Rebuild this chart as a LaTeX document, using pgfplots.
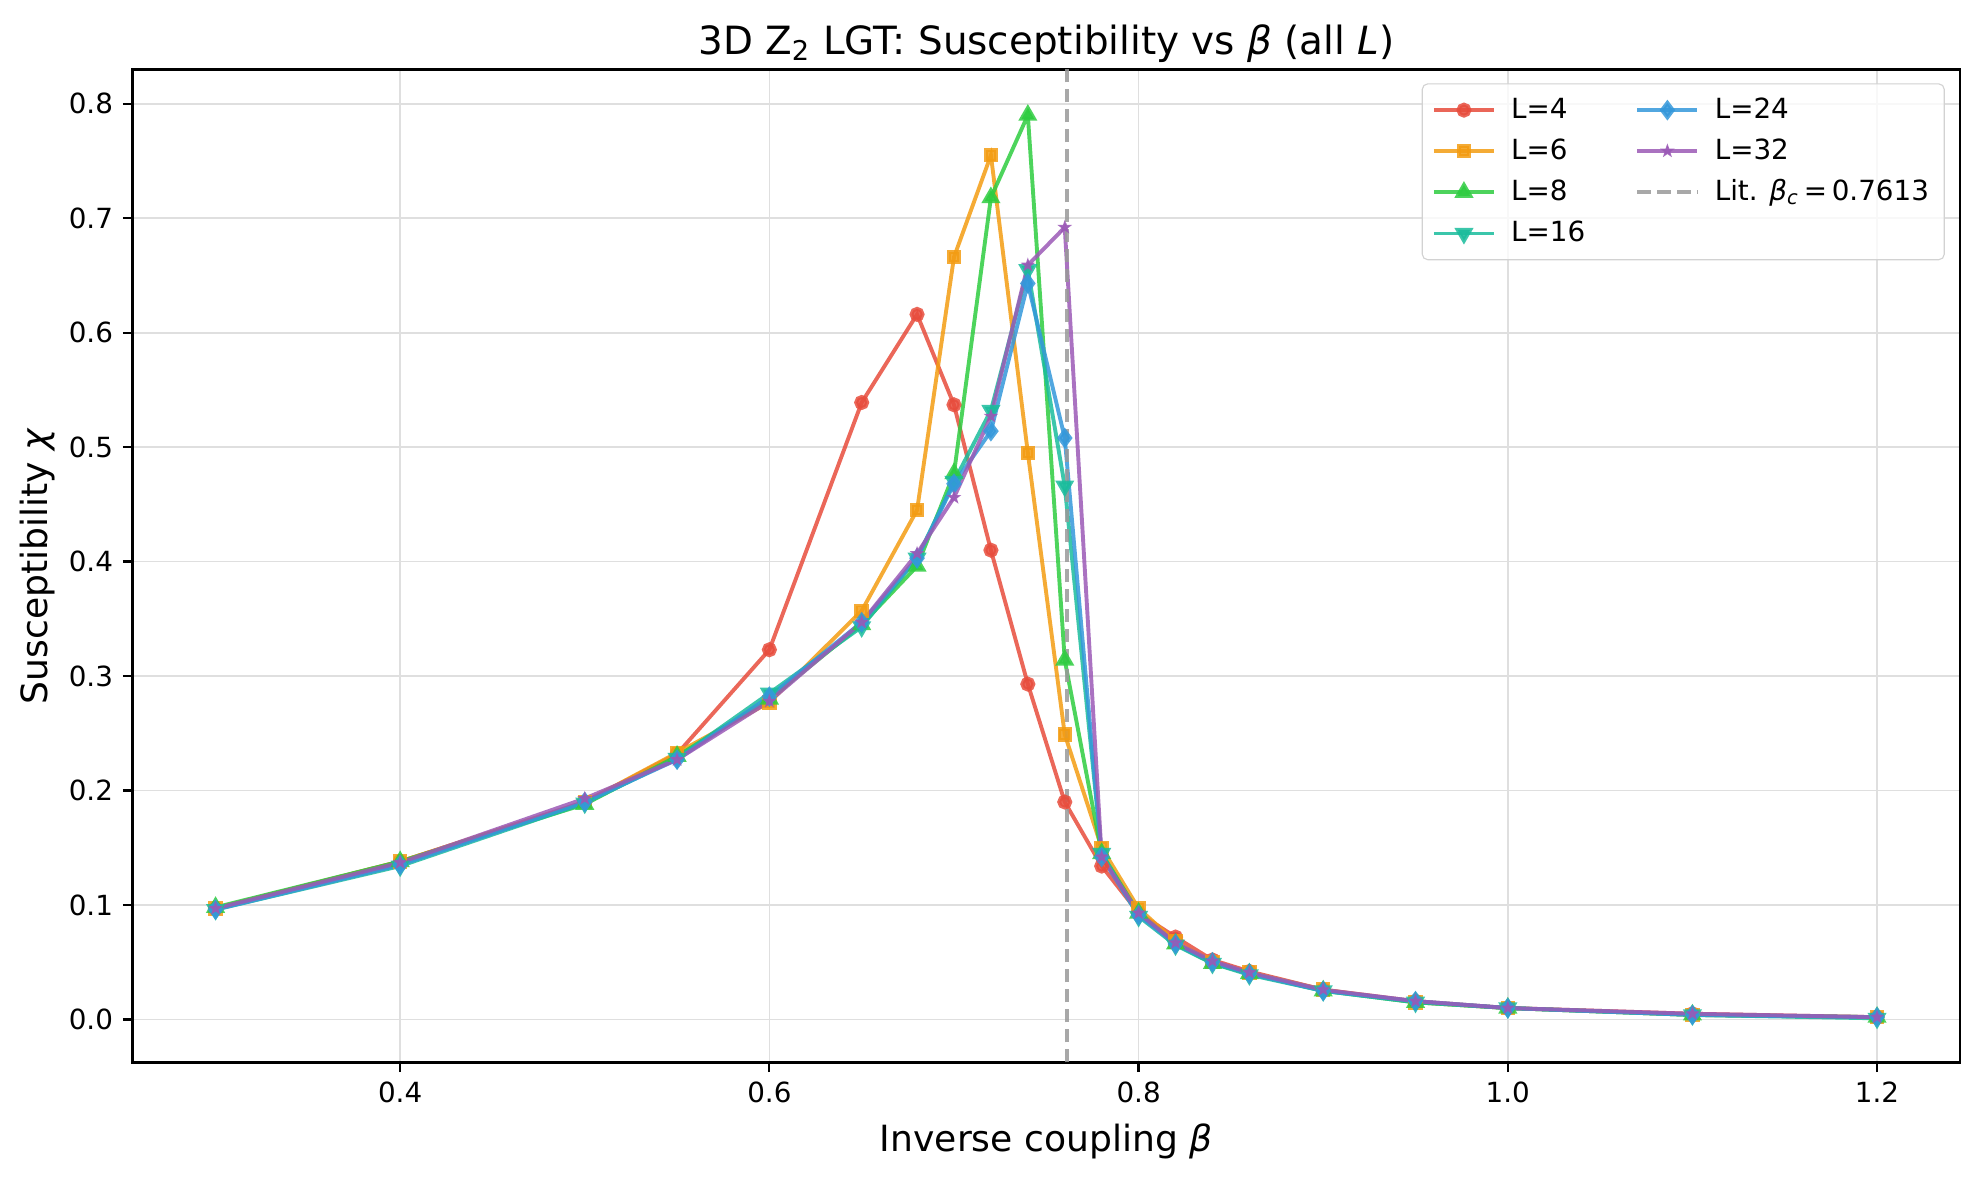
\documentclass[border=0pt]{standalone}
\usepackage{fontspec}
\setmainfont{DejaVu Sans}
\usepackage{pgfplots}
\pgfplotsset{compat=1.18}
\usepackage{pgfplotstable}
\definecolor{cL4}{HTML}{E74C3C}
\definecolor{cL6}{HTML}{F39C12}
\definecolor{cL8}{HTML}{2ECC40}
\definecolor{cL16}{HTML}{1ABC9C}
\definecolor{cL24}{HTML}{3498DB}
\definecolor{cL32}{HTML}{9B59B6}
\pgfdeclareplotmark{fstar}{%
  \pgfpathmoveto{\pgfpointpolar{90}{\pgfplotmarksize}}%
  \pgfpathlineto{\pgfpointpolar{126}{0.4\pgfplotmarksize}}%
  \pgfpathlineto{\pgfpointpolar{162}{\pgfplotmarksize}}%
  \pgfpathlineto{\pgfpointpolar{198}{0.4\pgfplotmarksize}}%
  \pgfpathlineto{\pgfpointpolar{234}{\pgfplotmarksize}}%
  \pgfpathlineto{\pgfpointpolar{270}{0.4\pgfplotmarksize}}%
  \pgfpathlineto{\pgfpointpolar{306}{\pgfplotmarksize}}%
  \pgfpathlineto{\pgfpointpolar{342}{0.4\pgfplotmarksize}}%
  \pgfpathlineto{\pgfpointpolar{18}{\pgfplotmarksize}}%
  \pgfpathlineto{\pgfpointpolar{54}{0.4\pgfplotmarksize}}%
  \pgfpathclose\pgfusepathqfillstroke}
\pgfplotstableread{
b     L4     L6     L8     L16    L24    L32
0.30  0.097  0.097  0.098  0.096  0.096  0.097
0.40  0.138  0.138  0.138  0.134  0.135  0.137
0.50  0.190  0.190  0.188  0.189  0.190  0.193
0.55  0.232  0.233  0.230  0.228  0.227  0.227
0.60  0.323  0.277  0.280  0.285  0.282  0.278
0.65  0.539  0.357  0.345  0.343  0.347  0.347
0.68  0.616  0.445  0.396  0.403  0.403  0.407
0.70  0.537  0.666  0.477  0.470  0.468  0.456
0.72  0.410  0.755  0.718  0.532  0.514  0.527
0.74  0.293  0.495  0.790  0.655  0.643  0.659
0.76  0.190  0.249  0.314  0.466  0.508  0.692
0.78  0.134  0.150  0.145  0.145  0.142  0.142
0.80  0.093  0.097  0.093  0.090  0.091  0.093
0.82  0.072  0.068  0.066  0.065  0.066  0.067
0.84  0.052  0.050  0.049  0.049  0.050  0.051
0.86  0.042  0.041  0.040  0.039  0.040  0.041
0.90  0.026  0.026  0.025  0.025  0.025  0.026
0.95  0.016  0.015  0.015  0.015  0.016  0.016
1.00  0.010  0.010  0.010  0.010  0.010  0.010
1.10  0.005  0.004  0.004  0.004  0.004  0.005
1.20  0.002  0.002  0.002  0.001  0.002  0.002
}\datatable
\begin{document}
\begin{tikzpicture}
\path[use as bounding box] (-47.7pt,-42pt) rectangle (664.8pt,382.5pt);
\begin{axis}[
  at={(0,0)}, anchor=south west,
  scale only axis, width=658pt, height=357.5pt,
  xmin=0.255, xmax=1.245, ymin=-0.0375, ymax=0.83,
  xtick={0.4,0.6,0.8,1.0,1.2},
  ytick={0,0.1,0.2,0.3,0.4,0.5,0.6,0.7,0.8},
  xticklabel style={/pgf/number format/.cd,fixed,fixed zerofill,precision=1},
  yticklabel style={/pgf/number format/.cd,fixed,fixed zerofill,precision=1},
  /pgf/number format/assume math mode=true,
  tick label style={font=\fontsize{10}{12}\selectfont},
  tick align=outside, tick pos=left,
  major tick length=3.5pt,
  every tick/.style={black, line width=0.8pt},
  axis line style={line width=0.8pt},
  grid=major,
  grid style={gray!25, line width=0.6pt},
  title={3D Z\textsubscript{2} LGT: Susceptibility vs \textit{β} (all \textit{L})},
  title style={font=\fontsize{14}{16}\selectfont, yshift=-7pt},
  xlabel={Inverse coupling \textit{β}},
  ylabel={Susceptibility \textit{χ}},
  label style={font=\fontsize{13}{15}\selectfont},
  xlabel style={yshift=-0.7pt},
  ylabel style={yshift=-2pt},
  legend columns=2,
  legend cell align=left,
  legend style={at={(rel axis cs:1,1)}, anchor=north east, xshift=-5.5pt, yshift=-5pt,
    font=\fontsize{10}{12}\selectfont, draw=gray!35, rounded corners=2pt,
    fill=white, fill opacity=0.8, text opacity=1,
    row sep=1.8pt, inner xsep=3.5pt, inner ysep=3pt,
    /tikz/column 1/.style={column sep=3.5pt},
    /tikz/column 3/.style={column sep=3.5pt},
    /tikz/column 2/.style={column sep=16pt}},
  legend image code/.code={\draw[mark repeat=2,mark phase=2,#1] plot coordinates {(0cm,0cm) (0.38cm,0cm) (0.76cm,0cm)};},
  every axis plot/.append style={line width=1.4pt, opacity=0.85},
]
\addplot[forget plot, cL4, mark=*, mark size=2pt] table[x=b,y=L4] {\datatable};
\addplot[forget plot, cL6, mark=square*, mark size=1.9pt] table[x=b,y=L6] {\datatable};
\addplot[forget plot, cL8, mark=triangle*, mark size=2.6pt] table[x=b,y=L8] {\datatable};
\addplot[forget plot, cL16, mark=triangle*, mark size=2.6pt, mark options={rotate=180}] table[x=b,y=L16] {\datatable};
\addplot[forget plot, cL24, mark=diamond*, mark size=2.6pt] table[x=b,y=L24] {\datatable};
\addplot[forget plot, cL32, mark=fstar, mark size=2.0pt, mark options={line width=0.5pt}] table[x=b,y=L32] {\datatable};
\addplot[forget plot, gray!80, opacity=0.85, line width=1.5pt, dash pattern=on 5pt off 2.2pt] coordinates {(0.7613,-0.0375) (0.7613,0.83)};
\addlegendimage{cL4, mark=*, mark size=2pt, line width=1.4pt, opacity=0.85}
\addlegendentry{L=4}
\addlegendimage{cL24, mark=diamond*, mark size=2.6pt, line width=1.4pt, opacity=0.85}
\addlegendentry{L=24}
\addlegendimage{cL6, mark=square*, mark size=1.9pt, line width=1.4pt, opacity=0.85}
\addlegendentry{L=6}
\addlegendimage{cL32, mark=fstar, mark size=2.0pt, mark options={line width=0.5pt}, line width=1.4pt, opacity=0.85}
\addlegendentry{L=32}
\addlegendimage{cL8, mark=triangle*, mark size=2.6pt, line width=1.4pt, opacity=0.85}
\addlegendentry{L=8}
\addlegendimage{gray!80, line width=1.5pt, dash pattern=on 5pt off 2.2pt, opacity=0.85}
\addlegendentry{Lit. \textit{β}\textsubscript{\textit{c}}\,=\,0.7613}
\addlegendimage{cL16, mark=triangle*, mark size=2.6pt, mark options={rotate=180}, line width=1.4pt, opacity=0.85}
\addlegendentry{L=16}
\end{axis}
\end{tikzpicture}
\end{document}
